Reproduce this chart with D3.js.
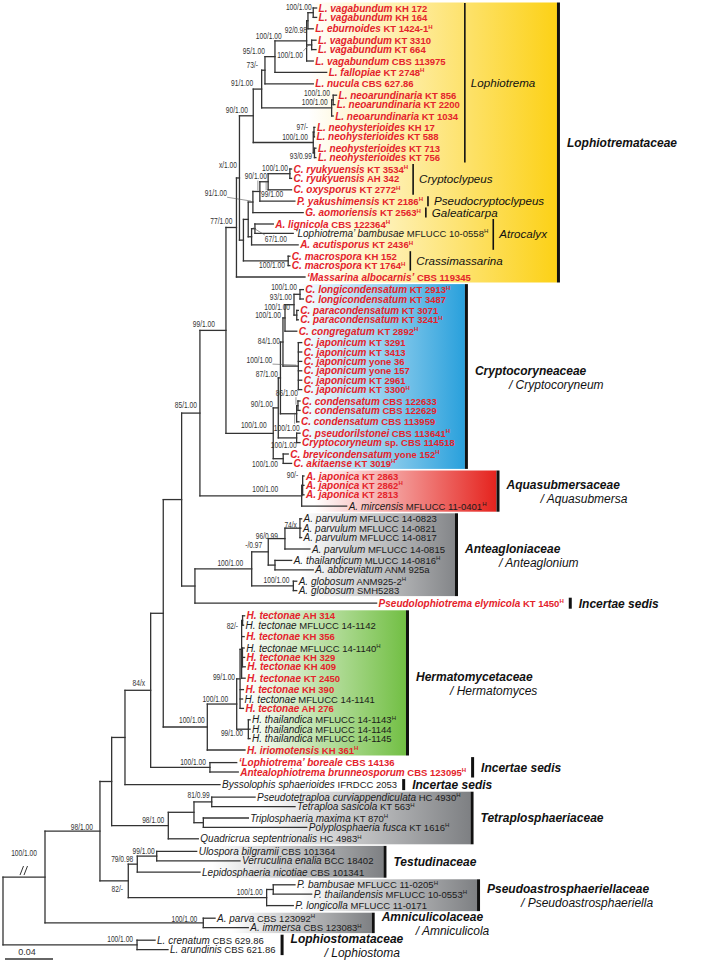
<!DOCTYPE html>
<html><head><meta charset="utf-8">
<script src="https://cdn.jsdelivr.net/npm/d3@7"></script>
<style>
html,body{margin:0;padding:0;background:#fff;}
svg{display:block;font-family:"Liberation Sans",Arial,Helvetica,sans-serif;}
</style></head><body>
<svg id="chart" width="701" height="962"></svg>
<script>
// ---------------- DATA ----------------
// Clades as Newick strings (branch lengths in substitutions/site, internal ids carry support)
const NWK_VAGABUNDUM = "(((v172:0.0028,v164:0.0028)s_kh:0.0044,ebu:0.0044)s_eb:0.0011,(v3310:0.0036,v664:0.0036)s_p:0.0042,v113975:0.0055)s_v";
const NWK_LOPHIOTREMA = `((((${NWK_VAGABUNDUM}:0.0264,fal:0.0431)s_95:0.00833,nuc:0.0403)s_73:0.00275,((na856:0.0028,na2200:0.0014)s_nai:0.0013,na1034:0.0013)s_nao:0.0583)s_91:0.007,((nh17:0.0008,nh588:0.0004)s_nh1:0.0006,(nh713:0.0012,nh756:0.0012)s_nh2:0.001)s_nho:0.05)s_lg`;
const NWK_OTHER_LOPHIOTREMATACEAE = "((((((ry3534:0.0014,ry342:0.0014)s_ry:0.0181,oxy:0.0195)s_m4:0.0069,yak:0.0292)s_m3:0.0058,aom:0.0419)s_m2:0.0039,((lig:0.0153,bam:0.0319)s_ati:0.0028,acu:0.0388):0.0028):0.004,(mac152:0.0014,mac1764:0.0014)s_cra:0.0373)";
const NWK_LOPHIOTREMATACEAE = `((${NWK_LOPHIOTREMA}:0.0115,${NWK_OTHER_LOPHIOTREMATACEAE}:0.0033)s_l1:0.0025,alb:0.0571)s_k1`;
const NWK_CRYPTO = "(((((((lo2913:0.0028,lo3487:0.0028)s_lon:0.005,(pa3071:0.0013,pa3241:0.0013)s_par:0.0023)s_n1:0.0075,con:0.0098)s_n2:0.0017,(ja3291:0.0028,ja3413:0.0028,ja36:0.0028,ja157:0.0028,ja2961:0.0028,ja3300:0.0028)s_jap:0.0128)s_n3:0.0021,((cd633:0.0017,cd629:0.0017)s_cdi:0.0011,cd959:0.0019)s_cdo:0.0135)s_n4:0.0018,(pse:0.0028,csp:0.0028)s_pse:0.0153)s_n5:0.0042,(bre:0.0042,aki:0.007)s_ba:0.0083)s_cry";
const NWK_AQUA = "((aj2863:0.0011,aj2862:0.0011,aj2813:0.0011)s_aj:0.0008,mir:0.0375)s_aqu";
const NWK_ANTEAG = "((((pv0823:0.0014,pv0821:0.0008,pv0817:0.0014)s_q3:0.0125,pv0815:0.0208)s_q2:0.0139,(tha:0.0139,abb:0.0319):0.0056)s_q1:0.0138,(gl2:0.0028,gl5283:0.0028)s_glo:0.0347)s_ant";
const NWK_HERM = "(((((ht314:0.0017,ht1142:0.0008)s_ha:0.0008,ht356:0.0021,(ht1140:0.0014,ht329:0.0018,ht409:0.0023):0.0007,ht2450:0.0029):0.0013,ht390:0.0028,ht1141:0.0021,ht276:0.0028)s_t0:0.0028,(hth1143:0.0014,hth1144:0.0014,hth1145:0.0014)s_hth:0.0097)s_h1:0.0245,hir:0.0314)s_her";
const NWK_TETRA = "(((ptc:0.0361,tsa:0.0694)s_t2:0.0148,(tma:0.0375,pfu:0.0862):0.0078):0.0214,qse:0.025)s_tet";
const NWK_TESTUD = "((ubi:0.0333,ven:0.0694)s_u1:0.0162,lni:0.0523)s_tes";
const NWK_PASTRO = "((pba:0.0181,pth:0.032):0.0055,plo:0.0222)s_pas";
const NWK_AMNIC = "(apa:0.0098,aim:0.0375)s_amn";
const NWK_LOPHIOSTOMA = "(lcr:0.015,lar:0.0258)s_lph";
const NWK_INCSED = "(bor:0.0223,abr:0.0236)s_is1";
const TREE_NEWICK =
 `((((((((((${NWK_LOPHIOTREMATACEAE}:0.00875,${NWK_CRYPTO}:0.0394)s_j1:0.0217,${NWK_AQUA}:0.0848)s_i1:0.01525,` +
 `(${NWK_ANTEAG}:0.0473,pel:0.1514):0.0111):0.0153,${NWK_HERM}:0.0367):0.0105,${NWK_INCSED}:0.0494)s_f1:0.0214,` +
 `bys:0.0792):0.0111,${NWK_TETRA}:0.0472):0.00975,(${NWK_TESTUD}:0.0075,${NWK_PASTRO}:0.1153)s_d2:0.0236)s_c1:0.0458,` +
 `${NWK_AMNIC}:0.1319)s_b1:0.035,${NWK_LOPHIOSTOMA}:0.1117);`;

// [key, species, strain, type strain (H), newly studied (red)]
const LEAVES = [
 ["v172","L. vagabundum","KH 172",0,1],["v164","L. vagabundum","KH 164",0,1],
 ["ebu","L. eburnoides","KT 1424-1",1,1],["v3310","L. vagabundum","KT 3310",0,1],
 ["v664","L. vagabundum","KT 664",0,1],["v113975","L. vagabundum","CBS 113975",0,1],
 ["fal","L. fallopiae","KT 2748",1,1],["nuc","L. nucula","CBS 627.86",0,1],
 ["na856","L. neoarundinaria","KT 856",0,1],["na2200","L. neoarundinaria","KT 2200",0,1],
 ["na1034","L. neoarundinaria","KT 1034",0,1],["nh17","L. neohysterioides","KH 17",0,1],
 ["nh588","L. neohysterioides","KT 588",0,1],["nh713","L. neohysterioides","KT 713",0,1],
 ["nh756","L. neohysterioides","KT 756",0,1],["ry3534","C. ryukyuensis","KT 3534",1,1],
 ["ry342","C. ryukyuensis","AH 342",0,1],["oxy","C. oxysporus","KT 2772",1,1],
 ["yak","P. yakushimensis","KT 2186",1,1],["aom","G. aomoriensis","KT 2563",1,1],
 ["lig","A. lignicola","CBS 122364",1,1],["bam","\u2018Lophiotrema\u2019 bambusae","MFLUCC 10-0558",1,0],
 ["acu","A. acutisporus","KT 2436",1,1],["mac152","C. macrospora","KH 152",0,1],
 ["mac1764","C. macrospora","KT 1764",1,1],["alb","\u2018Massarina albocarnis\u2019","CBS 119345",0,1],
 ["lo2913","C. longicondensatum","KT 2913",1,1],["lo3487","C. longicondensatum","KT 3487",0,1],
 ["pa3071","C. paracondensatum","KT 3071",0,1],["pa3241","C. paracondensatum","KT 3241",1,1],
 ["con","C. congregatum","KT 2892",1,1],["ja3291","C. japonicum","KT 3291",0,1],
 ["ja3413","C. japonicum","KT 3413",0,1],["ja36","C. japonicum","yone 36",0,1],
 ["ja157","C. japonicum","yone 157",0,1],["ja2961","C. japonicum","KT 2961",0,1],
 ["ja3300","C. japonicum","KT 3300",1,1],["cd633","C. condensatum","CBS 122633",0,1],
 ["cd629","C. condensatum","CBS 122629",0,1],["cd959","C. condensatum","CBS 113959",0,1],
 ["pse","C. pseudorilstonei","CBS 113641",1,1],["csp","Cryptocoryneum","sp. CBS 114518",0,1],
 ["bre","C. brevicondensatum","yone 152",1,1],["aki","C. akitaense","KT 3019",1,1],
 ["aj2863","A. japonica","KT 2863",0,1],["aj2862","A. japonica","KT 2862",1,1],
 ["aj2813","A. japonica","KT 2813",0,1],["mir","A. mircensis","MFLUCC 11-0401",1,0],
 ["pv0823","A. parvulum","MFLUCC 14-0823",0,0],["pv0821","A. parvulum","MFLUCC 14-0821",0,0],
 ["pv0817","A. parvulum","MFLUCC 14-0817",0,0],["pv0815","A. parvulum","MFLUCC 14-0815",0,0],
 ["tha","A. thailandicum","MLUCC 14-0816",1,0],["abb","A. abbreviatum","ANM 925a",0,0],
 ["gl2","A. globosum","ANM925-2",1,0],["gl5283","A. globosum","SMH5283",0,0],
 ["pel","Pseudolophiotrema elymicola","KT 1450",1,1],
 ["ht314","H. tectonae","AH 314",0,1],["ht1142","H. tectonae","MFLUCC 14-1142",0,0],
 ["ht356","H. tectonae","KH 356",0,1],["ht1140","H. tectonae","MFLUCC 14-1140",1,0],
 ["ht329","H. tectonae","KH 329",0,1],["ht409","H. tectonae","KH 409",0,1],
 ["ht2450","H. tectonae","KT 2450",0,1],["ht390","H. tectonae","KH 390",0,1],
 ["ht1141","H. tectonae","MFLUCC 14-1141",0,0],["ht276","H. tectonae","AH 276",0,1],
 ["hth1143","H. thailandica","MFLUCC 14-1143",1,0],["hth1144","H. thailandica","MFLUCC 14-1144",0,0],
 ["hth1145","H. thailandica","MFLUCC 14-1145",0,0],["hir","H. iriomotensis","KH 361",1,1],
 ["bor","\u2018Lophiotrema\u2019 boreale","CBS 14136",0,1],["abr","Antealophiotrema brunneosporum","CBS 123095",1,1],
 ["bys","Byssolophis sphaerioides","IFRDCC 2053",0,0],
 ["ptc","Pseudotetraploa curviappendiculata","HC 4930",1,0],["tsa","Tetraploa sasicola","KT 563",1,0],
 ["tma","Triplosphaeria maxima","KT 870",1,0],["pfu","Polyplosphaeria fusca","KT 1616",1,0],
 ["qse","Quadricrua septentrionalis","HC 4983",1,0],
 ["ubi","Ulospora bilgramii","CBS 101364",0,0],["ven","Verruculina enalia","BCC 18402",0,0],
 ["lni","Lepidosphaeria nicotiae","CBS 101341",0,0],
 ["pba","P. bambusae","MFLUCC 11-0205",1,0],["pth","P. thailandensis","MFLUCC 10-0553",1,0],
 ["plo","P. longicolla","MFLUCC 11-0171",0,0],
 ["apa","A. parva","CBS 123092",1,0],["aim","A. immersa","CBS 123083",1,0],
 ["lcr","L. crenatum","CBS 629.86",0,0],["lar","L. arundinis","CBS 621.86",0,0]
];

// support values (ML bootstrap / posterior probability)
const SUPPORT = [
 ["s_lph","100/1.00"],["s_b1","100/1.00"],["s_amn","100/1.00"],["s_c1","98/1.00"],["s_d2","82/-"],
 ["s_u1","99/1.00"],["s_tes","79/0.98"],["s_pas","100/1.00"],["s_t2","81/0.99"],["s_tet","98/1.00"],
 ["s_f1","84/x"],["s_is1","100/1.00"],["s_her","100/1.00"],["s_h1","100/1.00"],["s_hth","99/1.00"],
 ["s_t0","99/1.00"],["s_ha","82/-"],["s_ant","100/1.00"],["s_q1","-/0.97"],["s_q2","96/0.99"],
 ["s_q3","74/x"],["s_glo","100/1.00"],["s_i1","85/1.00"],["s_aj","90/-"],["s_aqu","100/1.00"],
 ["s_j1","99/1.00"],["s_cry","100/1.00"],["s_ba","100/1.00"],["s_n5","90/1.00"],["s_pse","100/1.00"],
 ["s_n4","87/1.00"],["s_cdi","86/1.00"],["s_cdo","100/1.00"],["s_n3","84/1.00"],["s_jap","100/1.00"],
 ["s_n2","100/1.00"],["s_n1","93/1.00"],["s_lon","100/1.00"],["s_par","100/1.00"],["s_k1","77/1.00"],
 ["s_l1","x/1.00"],["s_lg","90/1.00"],["s_91","91/1.00"],["s_73","73/-"],["s_95","95/1.00"],
 ["s_v","100/1.00"],["s_kh","100/1.00"],["s_eb","92/0.98"],["s_p","100/1.00"],["s_nai","100/1.00"],
 ["s_nao","100/1.00"],["s_nh1","97/-"],["s_nho","100/1.00"],["s_nh2","93/0.99"],["s_m2","91/1.00"],
 ["s_m3","90/1.00"],["s_m4","99/1.00"],["s_ry","100/1.00"],["s_ati","67/1.00"],["s_cra","100/1.00"]
];

// genera inside Lophiotremataceae: [name, first leaf, last leaf]
const GENERA = [
 ["Lophiotrema","v172","nh756"],["Cryptoclypeus","ry3534","oxy"],["Pseudocryptoclypeus","yak","yak"],
 ["Galeaticarpa","aom","aom"],["Atrocalyx","lig","acu"],["Crassimassarina","mac152","mac1764"]
];

// families: [name, subtitle, first leaf, last leaf]
const FAMILIES = [
 ["Lophiotremataceae","","v172","alb"],
 ["Cryptocoryneaceae","/ Cryptocoryneum","lo2913","aki"],
 ["Aquasubmersaceae","/ Aquasubmersa","aj2863","mir"],
 ["Anteagloniaceae","/ Anteaglonium","pv0823","gl5283"],
 ["Incertae sedis","","pel","pel"],
 ["Hermatomycetaceae","/ Hermatomyces","ht314","hir"],
 ["Incertae sedis","","bor","abr"],
 ["Incertae sedis","","bys","bys"],
 ["Tetraplosphaeriaceae","","ptc","qse"],
 ["Testudinaceae","","ubi","lni"],
 ["Pseudoastrosphaeriellaceae","/ Pseudoastrosphaeriella","pba","plo"],
 ["Amniculicolaceae","/ Amniculicola","apa","aim"],
 ["Lophiostomataceae","/ Lophiostoma","lcr","lar"]
];
const SCALE_BAR = 0.04;

// ---------------- STYLE ----------------
const RED = "#e4232b";
const FAMILY_FILL = {
 "Lophiotremataceae":"#fcd116","Cryptocoryneaceae":"#29a0dc","Aquasubmersaceae":"#e5231e",
 "Anteagloniaceae":"#848689","Hermatomycetaceae":"#72bf44","Tetraplosphaeriaceae":"#7e8083",
 "Testudinaceae":"#7e8083","Pseudoastrosphaeriellaceae":"#7e8083","Amniculicolaceae":"#7e8083"
};
// [dx, dy, leader]
const LABEL_NUDGE = {
 s_b1:[-4,-18.5],s_d2:[-1.3,13.5],s_amn:[-2,2],s_c1:[-3,1.5],s_u1:[2,0],s_t2:[2,-1.5],s_f1:[-1.5,-1.5],
 s_her:[1.5,-1.5],s_h1:[-4.5,0],s_t0:[-1,4],s_hth:[-1.3,9.5],s_ha:[-0.5,10.5],s_ant:[-4.5,0],
 s_q1:[-2,-1.5],s_q2:[-3,2.5],s_q3:[1,2],s_i1:[1,-3],s_aj:[-0.5,-5],s_aqu:[-19.5,-1],s_j1:[-7,-1],
 s_cry:[-2.5,-2.5],s_ba:[-1.3,10.5],s_n5:[-1.3,1.8],s_pse:[4,13],s_n4:[1.5,1.7],s_cdi:[4,-7,1],
 s_cdo:[7,19.5,1],s_n3:[1,4.8],s_jap:[-22,-0.5,1],s_n2:[0,2.9],s_n1:[2,-2.2],s_par:[-2.7,-2.9],
 s_lon:[1,-1.5],s_k1:[0,-1],s_l1:[1.5,-7.5],s_lg:[-1.3,0],s_91:[-4.5,-1],s_73:[-3,0],s_95:[-6,0],
 s_v:[-21,0.5],s_kh:[2.5,0],s_eb:[3,14.8],s_p:[-4.7,15.8,1],s_nai:[0.7,-1.8],s_nh1:[-2,0.5],
 s_nho:[-1.3,0],s_nh2:[1.5,9],s_m2:[-22,-3.3,1],s_m3:[11,-9.5,1],s_m4:[19,18,1],s_ry:[2,0],
 s_ati:[36,15.8,1],s_cra:[0.7,9.7]
};
const ROW = {step: 11.4, sister: 9.4/11.4, other: 1, familyGap: 1.2/11.4};

// ---------------- BUILD ----------------
function parseNewick(str) {
  const s = str.replace(/\s+/g, "");
  let i = 0;
  function node() {
    const n = {};
    if (s[i] === "(") {
      n.children = []; i++;
      n.children.push(node());
      while (s[i] === ",") { i++; n.children.push(node()); }
      i++;
    }
    let name = "";
    while (i < s.length && !",():;".includes(s[i])) name += s[i++];
    n.name = name; n.length = 0;
    if (s[i] === ":") {
      i++; let num = "";
      while (i < s.length && !",();".includes(s[i])) num += s[i++];
      n.length = parseFloat(num);
    }
    return n;
  }
  return node();
}

const root = d3.hierarchy(parseNewick(TREE_NEWICK));
root.eachBefore(d => { d.dist = d.parent ? d.parent.dist + d.data.length : 0; });
const leaves = root.leaves();
const leafInfo = new Map(LEAVES.map(r => [r[0], {species:r[1], strain:r[2], type:!!r[3], novel:!!r[4]}]));
const familyStarts = new Set(FAMILIES.slice(1).map(f => f[2]));
let u = 0;
leaves.forEach((l, i) => {
  if (i > 0) {
    u += (l.parent === leaves[i-1].parent) ? ROW.sister : ROW.other;
    if (familyStarts.has(l.data.name)) u += ROW.familyGap;
  }
  l.row = u;
});
root.eachAfter(d => { if (d.children) d.row = (d.children[0].row + d.children[d.children.length-1].row) / 2; });

const xScale = d3.scaleLinear().domain([0, SCALE_BAR]).range([3, 51]);
const yScale = d3.scaleLinear().domain([0, 1]).range([8, 8 + ROW.step]);
const X = d => xScale(d.dist), Y = d => yScale(d.row);

const svg = d3.select("#chart");
svg.append("rect").attr("width",701).attr("height",962).attr("fill","#fff");
const defs = svg.append("defs");
const gBoxes = svg.append("g");
const gTree = svg.append("g").attr("stroke","#333").attr("stroke-width",1.3).attr("stroke-linecap","square");
const gLeaf = svg.append("g");
const gSup = svg.append("g");
const gClade = svg.append("g");

// branches
gTree.selectAll("line.h").data(root.descendants().filter(d => d.parent)).join("line").attr("class","h")
  .attr("x1", d => X(d.parent)).attr("x2", d => X(d)).attr("y1", d => Y(d)).attr("y2", d => Y(d));
gTree.selectAll("line.v").data(root.descendants().filter(d => d.children)).join("line").attr("class","v")
  .attr("x1", d => X(d)).attr("x2", d => X(d))
  .attr("y1", d => Y(d.children[0])).attr("y2", d => Y(d.children[d.children.length-1]));

// break mark on the shortened basal branch
const b1 = root.children[0];
const mx = (X(root) + X(b1)) / 2, my = Y(b1);
[0, 4].forEach(k => gTree.append("line").attr("stroke-width",1).attr("stroke-linecap","butt")
  .attr("x1", mx - 4 + k).attr("y1", my - 2).attr("x2", mx - 0.5 + k).attr("y2", my - 11));

// leaf labels
const leafText = gLeaf.selectAll("text").data(leaves).join("text")
  .attr("x", d => X(d) + 2).attr("y", d => Y(d) + 3.5)
  .attr("font-size", 10).attr("xml:space","preserve").style("white-space","pre")
  .each(function(d) {
    const info = leafInfo.get(d.data.name);
    const t = d3.select(this).attr("fill", info.novel ? RED : "#1a1a1a")
      .attr("font-weight", info.novel ? "bold" : "normal");
    t.append("tspan").attr("font-style","italic").text(info.species);
    t.append("tspan").attr("font-size", 9.5).text(" " + info.strain);
    if (info.type) t.append("tspan").attr("font-size", 6).attr("dy", -3.5).text("H");
  });
leaves.forEach((d, i) => { d.labelEnd = X(d) + 2 + leafText.nodes()[i].getComputedTextLength(); });

const idx = new Map(leaves.map((d, i) => [d.data.name, i]));
const span = (a, b) => leaves.slice(idx.get(a), idx.get(b) + 1);

// genera
const genusEnds = [];
GENERA.forEach(([name, a, b]) => {
  const ls = span(a, b);
  const bx = d3.max(ls, d => d.labelEnd) + 5;
  const y0 = Y(ls[0]) - 5, y1 = Y(ls[ls.length-1]) + 5;
  gClade.append("line").attr("x1", bx).attr("x2", bx).attr("y1", y0).attr("y2", y1)
    .attr("stroke","#111").attr("stroke-width",1.6);
  const t = gClade.append("text").attr("x", bx + 6).attr("y", (y0 + y1) / 2 + 4)
    .attr("font-size", 11.6).attr("font-style","italic").attr("fill","#111").text(name);
  genusEnds.push({first: idx.get(a), end: bx + 6 + t.node().getComputedTextLength()});
});

// families
FAMILIES.forEach(([name, sub, a, b], k) => {
  const ls = span(a, b);
  const i0 = idx.get(a), i1 = idx.get(b);
  let end = d3.max(ls, d => d.labelEnd);
  genusEnds.forEach(g => { if (g.first >= i0 && g.first <= i1) end = Math.max(end, g.end); });
  const fill = FAMILY_FILL[name];
  const y0 = Y(ls[0]) - 5.5, y1 = Y(ls[ls.length-1]) + 5.5;
  let barX;
  if (fill) {
    const right = end + 10;
    const left = d3.mean(ls, d => X(d));
    const gid = "fam" + k;
    const grad = defs.append("linearGradient").attr("id", gid);
    grad.append("stop").attr("offset", 0).attr("stop-color", "#ffffff");
    grad.append("stop").attr("offset", 1).attr("stop-color", fill);
    gBoxes.append("rect").attr("x", left).attr("y", y0).attr("width", right - left)
      .attr("height", y1 - y0).attr("fill", `url(#${gid})`);
    barX = right;
  } else barX = end + 5;
  gClade.append("rect").attr("x", barX).attr("y", y0).attr("width", 3).attr("height", y1 - y0).attr("fill","#111");
  const cy = (y0 + y1) / 2, tx = barX + 10;
  gClade.append("text").attr("x", tx).attr("y", sub ? cy - 1.8 : cy + 4.3)
    .attr("font-size", 12).attr("font-weight","bold").attr("font-style","italic").attr("fill","#111").text(name);
  if (sub) gClade.append("text").attr("x", tx + 34).attr("y", cy + 12)
    .attr("font-size", 12).attr("font-style","italic").attr("fill","#111").text(sub);
});

// support values
const supportMap = new Map(SUPPORT);
root.descendants().filter(d => d.children && supportMap.has(d.data.name)).forEach(d => {
  const [dx, dy, leader] = LABEL_NUDGE[d.data.name] || [0, 0, 0];
  const nx = X(d), ny = Y(d);
  const t = gSup.append("text").attr("x", nx - 4 + dx).attr("y", ny - 2.5 + dy)
    .attr("text-anchor","end").attr("font-size", 8.5).attr("fill","#333").text(supportMap.get(d.data.name));
  const L = t.node().getComputedTextLength();
  t.attr("textLength", L * 0.78).attr("lengthAdjust","spacingAndGlyphs");
  if (leader) {
    const bb = t.node().getBBox();
    const tx = nx - 2, ty = ny - 1;
    const px = Math.max(bb.x, Math.min(tx, bb.x + bb.width));
    const py = Math.max(bb.y + 1, Math.min(ty, bb.y + bb.height - 1));
    gSup.append("line").attr("x1", px).attr("y1", py).attr("x2", tx).attr("y2", ty)
      .attr("stroke","#555").attr("stroke-width",0.6);
  }
});

// scale bar
const sbX = 5, sbY = 959, sbW = xScale(SCALE_BAR) - xScale(0);
svg.append("line").attr("x1", sbX).attr("x2", sbX + sbW).attr("y1", sbY).attr("y2", sbY)
  .attr("stroke","#333").attr("stroke-width",1.3);
svg.append("text").attr("x", sbX + sbW / 2 - 2).attr("y", sbY - 4).attr("text-anchor","middle")
  .attr("font-size", 9).attr("fill","#333").text(String(SCALE_BAR));
</script>
</body></html>
